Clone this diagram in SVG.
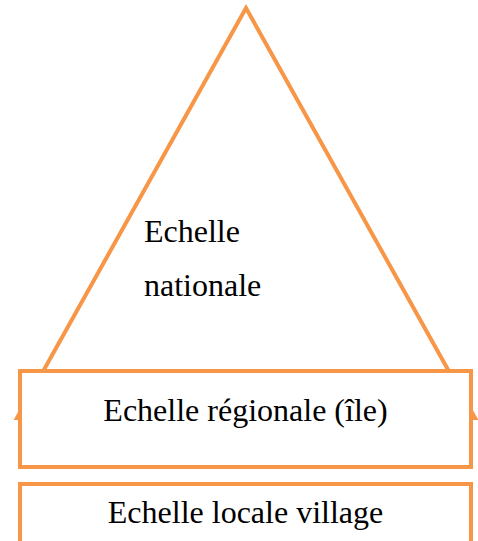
<svg xmlns="http://www.w3.org/2000/svg" width="478" height="541" viewBox="0 0 478 541">
<style>
.shape{fill:#fff;stroke:#F79646;stroke-width:4}
.t{font-family:"Liberation Serif","Times New Roman",serif;font-size:32px;fill:#000}
</style>
<rect width="478" height="541" fill="#fff"/>
<g id="national">
<polygon class="shape" points="246,8 17,418 475,418" stroke-linejoin="miter"/>
<text class="t" x="144" y="242">Echelle</text>
<text class="t" x="144" y="296">nationale</text>
</g>
<g id="regional">
<rect class="shape" x="20" y="371" width="451" height="96"/>
<text class="t" x="245.5" y="421" text-anchor="middle">Echelle régionale (île)</text>
</g>
<g id="local">
<rect class="shape" x="20" y="484" width="451" height="70"/>
<text class="t" x="245.5" y="523" text-anchor="middle">Echelle locale village</text>
</g>
<g id="connectors"></g>
</svg>
